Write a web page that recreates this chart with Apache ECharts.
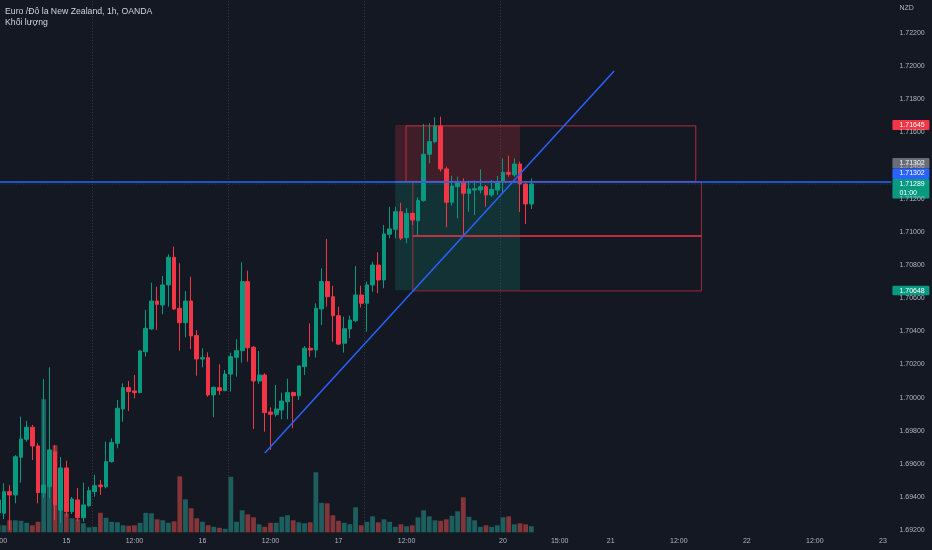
<!DOCTYPE html>
<html><head><meta charset="utf-8">
<script src="https://cdn.jsdelivr.net/npm/echarts@6/dist/echarts.min.js"></script>
<style>html,body{margin:0;padding:0;background:#141822;}#c{width:932px;height:550px;}</style>
</head><body><div id="c"></div>
<script>
const titleText = 'Euro /Đô la New Zealand, 1h, OANDA';
const subtitleText = 'Khối lượng';
const currency = 'NZD';
const countdown = '01:00';
// trading sessions shown on the time axis (day, start hour, number of hourly slots)
const sessions = [{day: 14, hour: 12, bars: 89}, {day: 20, hour: 5, bars: 69}];
// [open, close, low, high]
const ohlc = [
[1.69303,1.69382,1.69261,1.69406],[1.69302,1.69432,1.69267,1.69483],[1.69432,1.69412,1.69201,1.69472],
[1.69412,1.69643,1.69362,1.69653],[1.69640,1.69750,1.69486,1.69885],[1.69748,1.69821,1.69734,1.69859],
[1.69821,1.69708,1.69623,1.69835],[1.69708,1.69426,1.69362,1.69724],[1.69426,1.69472,1.69394,1.70112],
[1.69462,1.69684,1.69392,1.70183],[1.69673,1.69352,1.69261,1.69714],[1.69321,1.69575,1.69243,1.69641],
[1.69575,1.69311,1.69281,1.69619],[1.69311,1.69388,1.69297,1.69400],[1.69382,1.69275,1.69255,1.69454],
[1.69275,1.69352,1.69249,1.69486],[1.69347,1.69438,1.69340,1.69462],[1.69432,1.69468,1.69402,1.69533],
[1.69472,1.69462,1.69412,1.69503],[1.69462,1.69613,1.69452,1.69734],[1.69613,1.69728,1.69607,1.69754],
[1.69724,1.69935,1.69694,1.69985],[1.69931,1.70060,1.69854,1.70086],[1.70060,1.70036,1.69919,1.70100],
[1.70040,1.70030,1.69996,1.70136],[1.70030,1.70281,1.70026,1.70287],[1.70277,1.70418,1.70247,1.70529],
[1.70414,1.70583,1.70408,1.70694],[1.70583,1.70563,1.70408,1.70669],[1.70559,1.70680,1.70503,1.70734],
[1.70680,1.70847,1.70549,1.70865],[1.70847,1.70535,1.70529,1.70911],[1.70539,1.70452,1.70283,1.70811],
[1.70452,1.70583,1.70364,1.70643],[1.70583,1.70372,1.70293,1.70730],[1.70374,1.70233,1.70132,1.70408],
[1.70233,1.70241,1.70183,1.70298],[1.70241,1.70016,1.70005,1.70273],[1.70016,1.70062,1.69881,1.70066],
[1.70060,1.70042,1.70016,1.70201],[1.70042,1.70142,1.70040,1.70167],[1.70142,1.70247,1.70036,1.70271],
[1.70243,1.70283,1.70126,1.70352],[1.70283,1.70700,1.70211,1.70817],[1.70700,1.70301,1.70217,1.70766],
[1.70304,1.70100,1.69810,1.70311],[1.70100,1.70136,1.70082,1.70281],[1.70136,1.69909,1.69794,1.70147],
[1.69913,1.69899,1.69684,1.69941],[1.69899,1.69931,1.69885,1.70076],[1.69925,1.69979,1.69869,1.70030],
[1.69975,1.70030,1.69869,1.70114],[1.70030,1.70011,1.69815,1.70036],[1.70011,1.70191,1.69985,1.70191],
[1.70187,1.70298,1.70136,1.70311],[1.70298,1.70287,1.70247,1.70448],[1.70287,1.70539,1.70241,1.70569],
[1.70535,1.70700,1.70438,1.70780],[1.70700,1.70609,1.70549,1.70957],[1.70609,1.70494,1.70337,1.70675],
[1.70494,1.70323,1.70317,1.70549],[1.70328,1.70416,1.70271,1.70488],[1.70414,1.70468,1.70358,1.70494],
[1.70464,1.70619,1.70456,1.70794],[1.70619,1.70569,1.70543,1.70675],[1.70569,1.70680,1.70398,1.70700],
[1.70680,1.70800,1.70639,1.70820],[1.70800,1.70710,1.70630,1.70877],[1.70710,1.70988,1.70660,1.71042],
[1.70986,1.71018,1.70962,1.71152],[1.71016,1.71122,1.70962,1.71152],[1.71122,1.70962,1.70951,1.71176],
[1.70965,1.71112,1.70931,1.71143],[1.71112,1.71072,1.71042,1.71116],[1.71068,1.71189,1.70981,1.71209],
[1.71189,1.71469,1.71182,1.71652],[1.71469,1.71545,1.71414,1.71656],[1.71545,1.71639,1.71535,1.71692],
[1.71639,1.71380,1.71364,1.71696],[1.71380,1.71179,1.71028,1.71394],[1.71179,1.71277,1.71158,1.71339],
[1.71273,1.71303,1.71082,1.71333],[1.71303,1.71233,1.70975,1.71324],[1.71233,1.71259,1.71122,1.71309],
[1.71253,1.71261,1.71102,1.71309],[1.71253,1.71273,1.71233,1.71378],[1.71273,1.71223,1.71152,1.71283],
[1.71223,1.71257,1.71213,1.71313],[1.71253,1.71303,1.71223,1.71338],[1.71303,1.71360,1.71233,1.71444],
[1.71360,1.71348,1.71333,1.71460],[1.71344,1.71410,1.71333,1.71444],[1.71410,1.71289,1.71120,1.71424],
[1.71289,1.71169,1.71048,1.71294],[1.71169,1.71289,1.71138,1.71324]
];
const volume = [70,70,120,120,115,95,70,105,1330,800,
870,640,190,140,130,90,50,55,195,145,
105,100,70,65,70,95,195,190,130,120,
95,110,560,330,240,140,105,70,55,45,
35,555,105,220,180,150,80,55,95,95,
155,170,120,100,90,100,600,295,290,170,
115,95,80,250,70,105,160,100,130,105,
55,80,60,70,150,220,160,120,115,130,
165,210,350,155,120,55,70,55,70,150,
160,80,90,80,60];
const timeTicks = [[0,'12:00'],[12,'15'],[24,'12:00'],[36,'16'],[48,'12:00'],[60,'17'],[72,'12:00'],
  [89,'20'],[99,'15:00'],[108,'21'],[120,'12:00'],[132,'22'],[144,'12:00'],[156,'23']];
const priceAxis = {min: 1.692, max: 1.724, step: 0.002, lastShown: 1.722};
// drawings (bar index, price)
const trendLine = [[47.0, 1.69666], [108.6, 1.71971]];
const horizLevel = 1.71302;
const lastPrice = 1.71289;
const position = {from: 70, to: 92, stop: 1.71645, entry: 1.71302, target: 1.70648};
const boxUpper = {from: 71.9, to: 123.0, top: 1.71640, bottom: 1.71305};
const boxLower = {from: 73.1, to: 124.0, top: 1.71301, bottom: 1.70644};
const midLine = {from: 73.1, to: 124.0, price: 1.70975};

const FONT = "'Liberation Sans', Arial, sans-serif";
const GREEN = '#089981', RED = '#F23645';
const VOL_UP = 'rgba(38,166,154,0.5)', VOL_DOWN = 'rgba(239,83,80,0.5)';

// categories built from sessions
const categories = [];
const hours = [];
sessions.forEach(s => {
  for (let k = 0; k < s.bars; k++) {
    const t = s.hour + k;
    const d = s.day + Math.floor(t / 24), h = t % 24;
    categories.push(d + ' ' + String(h).padStart(2, '0') + ':00');
    hours.push(h);
  }
});
const N = categories.length;
const tickMap = new Map(timeTicks);
const sessionBreaks = [];
hours.forEach((h, i) => { if (h === 5 && i > 0 && i < ohlc.length) sessionBreaks.push({xAxis: i - 0.5}); });

const chart = echarts.init(document.getElementById('c'), null, {renderer: 'canvas'});
const GL = -4.5, GR = 40.6;
const option = {
  backgroundColor: '#141822',
  animation: false,
  textStyle: {fontFamily: FONT},
  grid: [
    {left: GL, right: GR, top: 0, bottom: 19.9, containLabel: false, outerBoundsMode: 'none'},
    {left: GL, right: GR, height: 200, bottom: 17.7, containLabel: false, outerBoundsMode: 'none'}
  ],
  xAxis: [
    {type: 'category', gridIndex: 0, data: categories, boundaryGap: true,
     axisLine: {show: false}, axisTick: {show: false}, splitLine: {show: false},
     axisLabel: {interval: (i) => tickMap.has(i), formatter: (v, i) => tickMap.get(i) || '',
       color: '#B2B5BE', fontSize: 7, margin: 7, fontFamily: FONT}},
    {type: 'category', gridIndex: 1, data: categories, boundaryGap: true, show: false},
    {type: 'value', gridIndex: 0, min: -0.5, max: N - 0.5, show: false}
  ],
  yAxis: [
    {type: 'value', gridIndex: 0, position: 'right', min: priceAxis.min, max: priceAxis.max, interval: priceAxis.step,
     axisLine: {show: false}, axisTick: {show: false}, splitLine: {show: false},
     axisLabel: {color: '#B2B5BE', fontSize: 7, margin: 8, fontFamily: FONT,
       formatter: v => v > priceAxis.lastShown + 1e-6 ? '' : v.toFixed(5)}},
    {type: 'value', gridIndex: 1, min: 0, max: 2000, show: false}
  ],
  series: [
    {type: 'bar', xAxisIndex: 1, yAxisIndex: 1, z: 0, barWidth: 4.8, silent: true,
     data: volume.map((v, i) => ({value: v, itemStyle: {color: ohlc[i][1] >= ohlc[i][0] ? VOL_UP : VOL_DOWN}}))},
    {type: 'line', xAxisIndex: 2, yAxisIndex: 0, silent: true, showSymbol: false, z: 1,
     data: [[position.from, position.entry], [position.to, position.entry]],
     lineStyle: {color: '#787B86', width: 1},
     markArea: {silent: true, z: 1, data: [
       [{coord: [position.from, position.stop], itemStyle: {color: 'rgba(242,54,69,0.2)'}}, {coord: [position.to, position.entry]}],
       [{coord: [position.from, position.entry], itemStyle: {color: 'rgba(8,153,129,0.2)'}}, {coord: [position.to, position.target]}]
     ]},
     markLine: {silent: true, z: 0.5, symbol: 'none', label: {show: false},
       lineStyle: {color: '#363a45', type: [1, 2], width: 1}, data: sessionBreaks}},
    {type: 'candlestick', xAxisIndex: 0, yAxisIndex: 0, z: 2, barWidth: 4.2, silent: true,
     itemStyle: {color: GREEN, color0: RED, borderColor: GREEN, borderColor0: RED, borderWidth: 1},
     data: ohlc},
    {type: 'line', xAxisIndex: 2, yAxisIndex: 0, silent: true, showSymbol: false, z: 3,
     data: [[midLine.from, midLine.price], [midLine.to, midLine.price]],
     lineStyle: {color: RED, width: 1.5},
     markArea: {silent: true, z: 3, data: [
       [{coord: [boxUpper.from, boxUpper.top], itemStyle: {color: 'rgba(0,0,0,0)', borderColor: 'rgba(242,54,69,0.7)', borderWidth: 1}}, {coord: [boxUpper.to, boxUpper.bottom]}],
       [{coord: [boxLower.from, boxLower.top], itemStyle: {color: 'rgba(0,0,0,0)', borderColor: 'rgba(242,54,69,0.6)', borderWidth: 1}}, {coord: [boxLower.to, boxLower.bottom]}]
     ]}},
    {type: 'line', xAxisIndex: 2, yAxisIndex: 0, silent: true, showSymbol: false, z: 3,
     data: [[-0.5, lastPrice], [N - 0.5, lastPrice]],
     lineStyle: {color: 'rgba(8,153,129,0.55)', width: 1, type: [1, 2]}},
    {type: 'line', xAxisIndex: 2, yAxisIndex: 0, silent: true, showSymbol: false, z: 4,
     data: [[-0.5, horizLevel], [N - 0.5, horizLevel]],
     lineStyle: {color: '#2962FF', width: 1.5}},
    {type: 'line', xAxisIndex: 2, yAxisIndex: 0, silent: true, showSymbol: false, z: 4,
     data: trendLine, lineStyle: {color: '#2962FF', width: 1.5}}
  ]
};
chart.setOption(option);

// right-hand price tags and header texts
const yOf = v => chart.convertToPixel({yAxisIndex: 0}, v);
const gridRight = 932 - GR;
const tagX = gridRight + 1, tagW = 37, txtX = gridRight + 8;
function tag(top, h, color, lines) {
  const els = [{type: 'rect', shape: {x: tagX, y: top, width: tagW, height: h, r: 1}, style: {fill: color}}];
  lines.forEach((t, k) => els.push({type: 'text', x: txtX, y: top + 5 + k * 9,
    style: {text: t, fill: '#ffffff', font: '7px ' + FONT, textVerticalAlign: 'middle', verticalAlign: 'middle'}}));
  return els;
}
const yLast = yOf(lastPrice);
const greenTop = yLast - 5;
const blueTop = greenTop - 10.5;
const greyTop = blueTop - 10.5;
const fmt = v => v.toFixed(5);
const graphics = [].concat(
  tag(yOf(position.stop) - 5, 10, RED, [fmt(position.stop)]),
  tag(greyTop, 10.5, '#6a6d78', [fmt(position.entry)]),
  tag(blueTop, 10.5, '#2962FF', [fmt(horizLevel)]),
  tag(greenTop, 19.5, GREEN, [fmt(lastPrice), countdown]),
  tag(yOf(position.target) - 4.5, 9.5, GREEN, [fmt(position.target)]),
  [
    {type: 'text', x: 5, y: 11.5, style: {text: titleText, fill: '#D1D4DC', font: '8.7px ' + FONT, verticalAlign: 'middle', textVerticalAlign: 'middle'}},
    {type: 'text', x: 5, y: 22.5, style: {text: subtitleText, fill: '#D1D4DC', font: '8.7px ' + FONT, verticalAlign: 'middle', textVerticalAlign: 'middle'}},
    {type: 'text', x: txtX, y: 8, style: {text: currency, fill: '#B2B5BE', font: '7px ' + FONT, verticalAlign: 'middle', textVerticalAlign: 'middle'}}
  ]
);
chart.setOption({graphic: graphics});
</script>
</body></html>
